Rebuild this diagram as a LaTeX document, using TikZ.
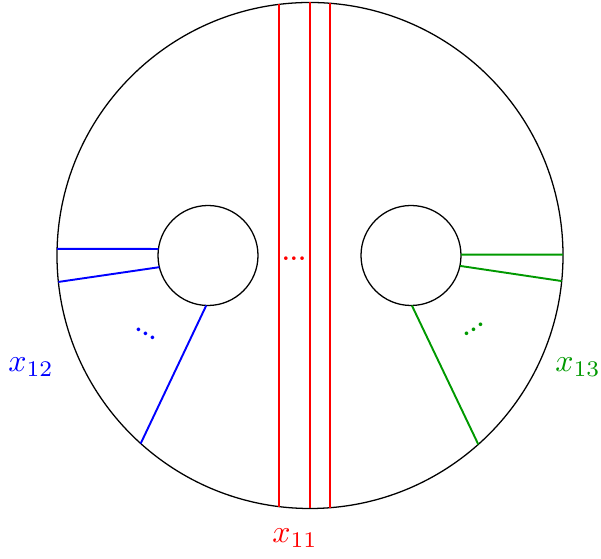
\documentclass[tikz,border=0pt]{standalone}
\usepackage{amsmath}
\usetikzlibrary{calc}

\begin{document}
\begin{tikzpicture}[x=0.011cm,y=0.011cm]
\useasboundingbox (-310,-303.5) rectangle (291,255.5);

\coordinate (O) at (0,0);
\coordinate (L) at (-102,0);
\coordinate (R) at (101,0);

\draw (O) circle (253);
\draw (L) circle (50);
\draw (R) circle (50);

\foreach \x/\n in {-31/a,0/b,20/c}{
\coordinate (T\n) at ({acos(\x/253)}:253);
\coordinate (B\n) at ({-acos(\x/253)}:253);
\draw[semithick,red] (T\n) to (B\n);
}

\coordinate (P1) at (178.5:253);
\coordinate (P2) at (186:253);
\coordinate (P3) at (228:253);
\coordinate (Q1) at ($(L)+(172.5:50)$);
\coordinate (Q2) at ($(L)+(193.5:50)$);
\coordinate (Q3) at ($(L)+(268:50)$);

\coordinate (U1) at (0.2:253);
\coordinate (U2) at (-5.8:253);
\coordinate (U3) at (-48.3:253);
\coordinate (V1) at ($(R)+(1:50)$);
\coordinate (V2) at ($(R)+(-12:50)$);
\coordinate (V3) at ($(R)+(-89:50)$);

\draw[semithick,blue] (P1) to (Q1);
\draw[semithick,blue] (P2) to (Q2);
\draw[semithick,blue] (P3) to (Q3);

\draw[semithick,green!60!black] (U1) to (V1);
\draw[semithick,green!60!black] (U2) to (V2);
\draw[semithick,green!60!black] (U3) to (V3);

\node[red, inner sep=0pt] (dr) at (-16,-3) {\scriptsize\bfseries ...};
\node[blue, inner sep=0pt, rotate=-29] (db) at (-164,-78) {\scriptsize\bfseries ...};
\node[green!60!black, inner sep=0pt, rotate=32] (dg) at (164,-74) {\scriptsize\bfseries ...};

\node[red] (x11) at (-15,-283) {$x_{11}$};
\node[blue] (x12) at (-279,-111.5) {$x_{12}$};
\node[green!60!black] (x13) at (268,-111.5) {$x_{13}$};
\end{tikzpicture}
\end{document}
